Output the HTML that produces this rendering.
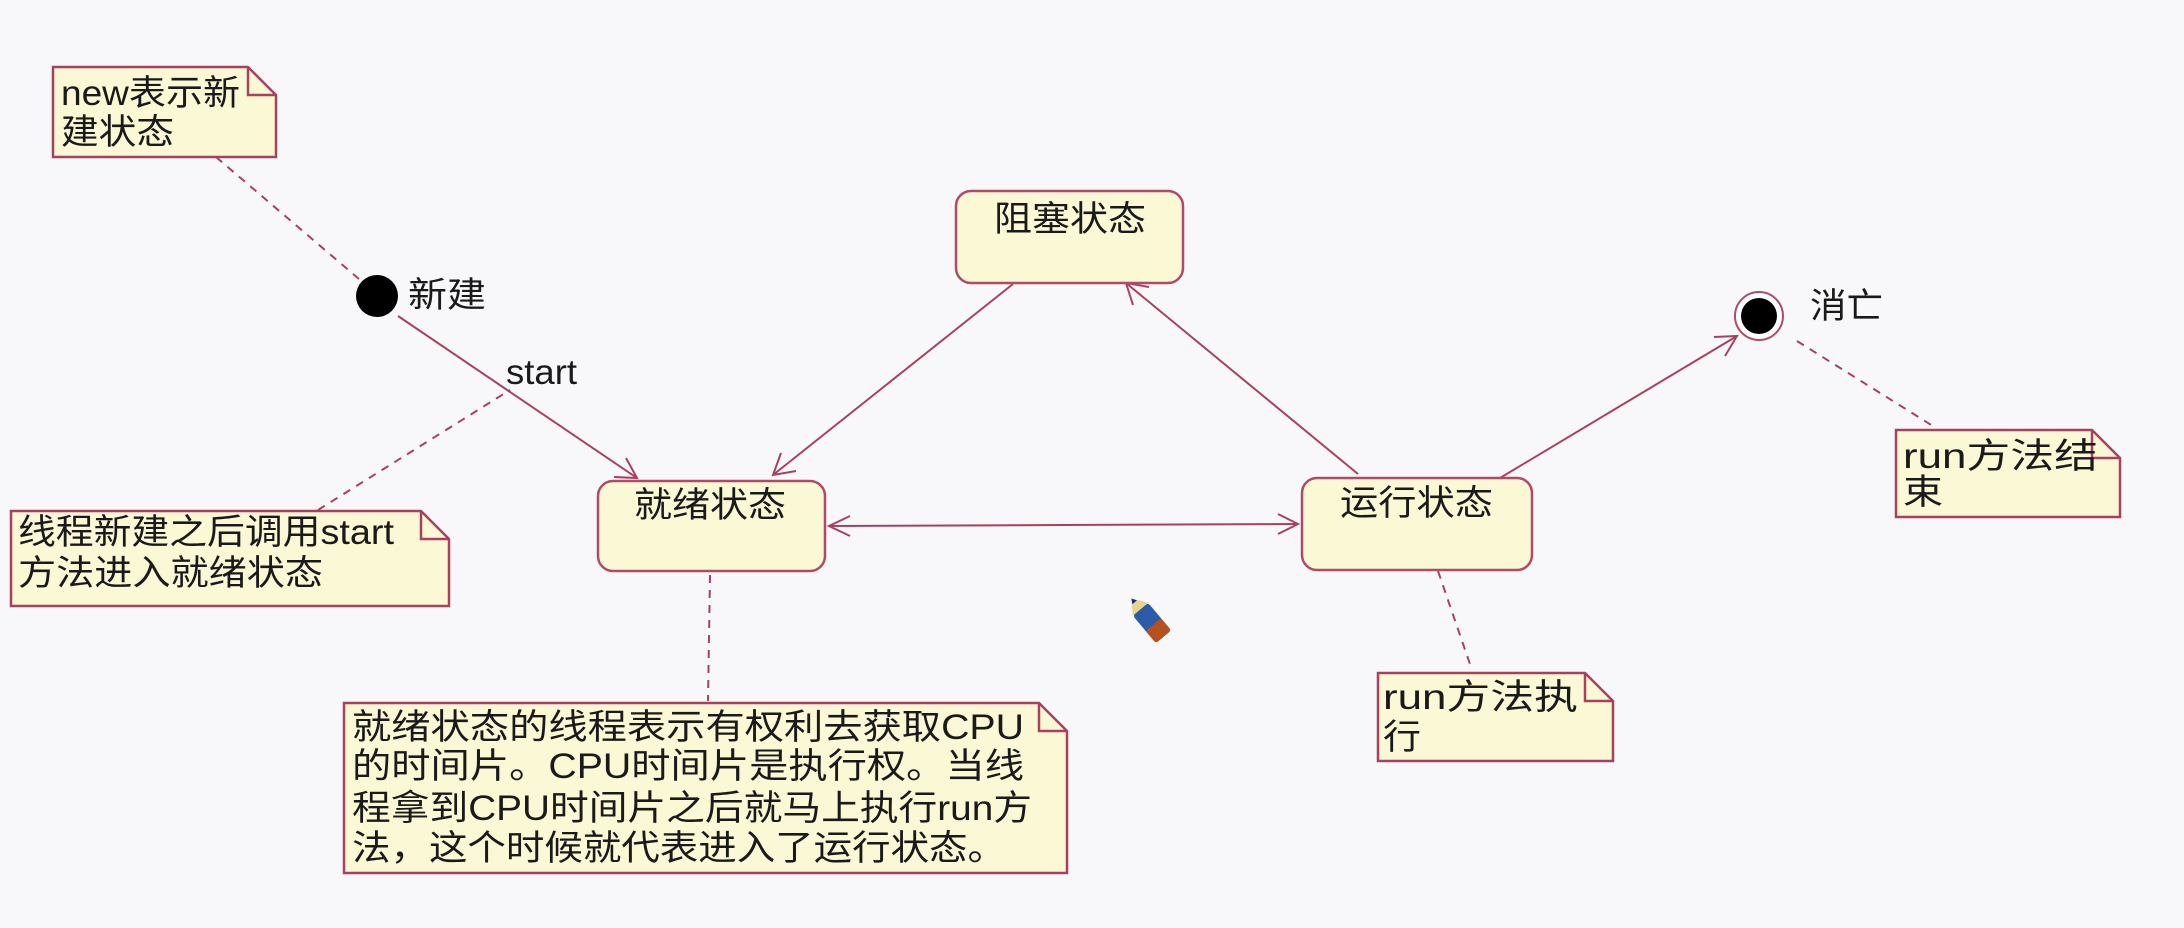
<!DOCTYPE html>
<html><head><meta charset="utf-8"><style>
html,body{margin:0;padding:0;background:#f8f8fa;}
svg{display:block;}
text{font-family:"Liberation Sans","Noto Sans CJK SC",sans-serif;fill:#1a1a1a;font-size:35px;}
</style></head><body>
<svg width="2184" height="928" viewBox="0 0 2184 928" xmlns="http://www.w3.org/2000/svg">
<rect width="2184" height="928" fill="#f8f8fa"/>
<g stroke="#a8415e" stroke-width="2" fill="none">
<g stroke-dasharray="8,7">
<line x1="216" y1="157" x2="359" y2="279"/>
<line x1="318" y1="510" x2="510" y2="390"/>
<line x1="710" y1="575" x2="708" y2="701"/>
<line x1="1438" y1="571" x2="1472" y2="670"/>
<line x1="1797" y1="341" x2="1936" y2="428"/>
</g>
<line x1="398" y1="316" x2="637" y2="478"/>
<polyline points="614,477 637,478 626,458"/>
<line x1="1013" y1="284" x2="773" y2="475"/>
<polyline points="781,453 773,475 796,471"/>
<line x1="1358" y1="474" x2="1126" y2="283"/>
<polyline points="1133,305 1126,283 1149,287"/>
<line x1="829" y1="526" x2="1298" y2="524"/>
<polyline points="850,516 829,526 850,536"/>
<polyline points="1278,514 1298,524 1278,534"/>
<line x1="1500" y1="478" x2="1737" y2="336"/>
<polyline points="1714,337 1737,336 1725,356"/>
</g>
<g fill="#fbf8d6" stroke="#b04a66" stroke-width="2.5">
<rect x="598" y="481" width="227" height="90" rx="15"/>
<rect x="956" y="191" width="227" height="92" rx="15"/>
<rect x="1302" y="478" width="230" height="92" rx="15"/>
</g>
<text x="634" y="517" textLength="152" lengthAdjust="spacingAndGlyphs">就绪状态</text>
<text x="994" y="231" textLength="152" lengthAdjust="spacingAndGlyphs">阻塞状态</text>
<text x="1340" y="515" textLength="153" lengthAdjust="spacingAndGlyphs">运行状态</text>
<circle cx="377" cy="296" r="21" fill="#000"/>
<text x="408" y="307" textLength="78" lengthAdjust="spacingAndGlyphs">新建</text>
<circle cx="1759" cy="316" r="24" fill="#fff" stroke="#b04a66" stroke-width="2"/>
<circle cx="1759" cy="316" r="18" fill="#000"/>
<text x="1810" y="318" textLength="73" lengthAdjust="spacingAndGlyphs">消亡</text>
<text x="506" y="384" textLength="71" lengthAdjust="spacingAndGlyphs">start</text>
<g fill="#fbf8d6" stroke="#a8415e" stroke-width="2.5">
<path d="M53,67 H248 L276,95 V157 H53 Z"/><path d="M248,67 V95 H276" fill="none"/>
<path d="M11,511 H421 L449,539 V606 H11 Z"/><path d="M421,511 V539 H449" fill="none"/>
<path d="M344,703 H1039 L1067,731 V873 H344 Z"/><path d="M1039,703 V731 H1067" fill="none"/>
<path d="M1378,673 H1585 L1613,701 V761 H1378 Z"/><path d="M1585,673 V701 H1613" fill="none"/>
<path d="M1896,430 H2092 L2120,458 V517 H1896 Z"/><path d="M2092,430 V458 H2120" fill="none"/>
</g>
<text x="61" y="105" textLength="179" lengthAdjust="spacingAndGlyphs">new表示新</text>
<text x="61" y="144" textLength="113" lengthAdjust="spacingAndGlyphs">建状态</text>
<text x="18" y="544" textLength="376" lengthAdjust="spacingAndGlyphs">线程新建之后调用start</text>
<text x="18" y="585" textLength="305" lengthAdjust="spacingAndGlyphs">方法进入就绪状态</text>
<text x="352" y="739" textLength="672" lengthAdjust="spacingAndGlyphs">就绪状态的线程表示有权利去获取CPU</text>
<text x="352" y="778" textLength="672" lengthAdjust="spacingAndGlyphs">的时间片。CPU时间片是执行权。当线</text>
<text x="352" y="820" textLength="680" lengthAdjust="spacingAndGlyphs">程拿到CPU时间片之后就马上执行run方</text>
<text x="352" y="860" textLength="654" lengthAdjust="spacingAndGlyphs">法，这个时候就代表进入了运行状态。</text>
<text x="1383" y="709" textLength="195" lengthAdjust="spacingAndGlyphs">run方法执</text>
<text x="1383" y="749" textLength="38" lengthAdjust="spacingAndGlyphs">行</text>
<text x="1903" y="468" textLength="195" lengthAdjust="spacingAndGlyphs">run方法结</text>
<text x="1903" y="504" textLength="40" lengthAdjust="spacingAndGlyphs">束</text>
<g transform="translate(1152,623) rotate(-40)">
<rect x="-10" y="-18" width="20" height="36" rx="3" fill="#2a5caa"/>
<rect x="-10" y="2" width="20" height="16" rx="3" fill="#b4511f"/>
<polygon points="-10,-18 10,-18 0,-32" fill="#e8d48a"/>
<polygon points="-3,-27 3,-27 0,-32" fill="#1a2a8a"/>
</g>
</svg>
</body></html>
